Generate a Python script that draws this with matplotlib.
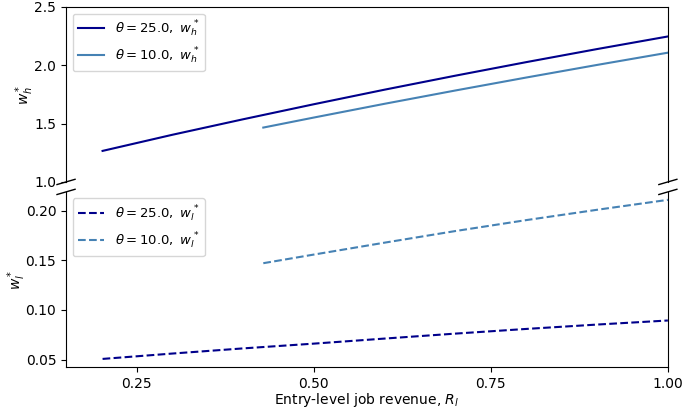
#!/usr/bin/env python3

import matplotlib
matplotlib.use('Agg')
import matplotlib.pyplot as plt

# Entry-level job revenue grid and optimal wages
R_l_25 = [0.2016, 0.30, 0.40, 0.50, 0.60, 0.70, 0.80, 0.90, 1.00]
w_h_25 = [1.266, 1.404, 1.537, 1.666, 1.791, 1.911, 2.027, 2.139, 2.247]
w_l_25 = [0.0506, 0.0560, 0.0612, 0.0660, 0.0711, 0.0761, 0.0808, 0.0852, 0.0893]

R_l_10 = [0.4286, 0.50, 0.60, 0.70, 0.80, 0.90, 1.00]
w_h_10 = [1.466, 1.552, 1.670, 1.784, 1.895, 2.003, 2.108]
w_l_10 = [0.1470, 0.1557, 0.1677, 0.1794, 0.1904, 0.2008, 0.2108]

thetas = [25.0, 10.0]
colors = ['darkblue', 'steelblue']


def main():
    fig, (ax_top, ax_bot) = plt.subplots(2, 1, sharex=True, figsize=(6.85, 4.09), dpi=100)
    fig.subplots_adjust(left=0.0964, right=0.975, top=0.983, bottom=0.103, hspace=0.057)

    # High-skill wages (top panel)
    ax_top.plot(R_l_25, w_h_25, color=colors[0],
                label=r'$\theta = %.1f,\ w_h^*$' % thetas[0])
    ax_top.plot(R_l_10, w_h_10, color=colors[1],
                label=r'$\theta = %.1f,\ w_h^*$' % thetas[1])
    ax_top.set_ylim(1.0, 2.5)
    ax_top.set_yticks([1.0, 1.5, 2.0, 2.5])
    ax_top.set_ylabel(r'$w_h^*$', labelpad=-1.5)
    ax_top.legend(loc='upper left', fontsize=9.5)

    # Low-skill wages (bottom panel)
    ax_bot.plot(R_l_25, w_l_25, color=colors[0], ls='--',
                label=r'$\theta = %.1f,\ w_l^*$' % thetas[0])
    ax_bot.plot(R_l_10, w_l_10, color=colors[1], ls='--',
                label=r'$\theta = %.1f,\ w_l^*$' % thetas[1])
    ax_bot.set_yticks([0.05, 0.10, 0.15, 0.20])
    ax_bot.set_ylabel(r'$w_l^*$', labelpad=-1.5)
    ax_bot.legend(loc='upper left', fontsize=9.5)

    ax_bot.set_xlim(0.15, 1.0)
    ax_bot.set_xticks([0.25, 0.50, 0.75, 1.00])
    ax_bot.set_xlabel(r'Entry-level job revenue, $R_l$', labelpad=0)

    # Broken axis look
    ax_top.spines['bottom'].set_visible(False)
    ax_bot.spines['top'].set_visible(False)
    ax_top.tick_params(axis='x', which='both', bottom=False, labelbottom=False)

    d = .015
    kw = dict(transform=ax_top.transAxes, color='k', clip_on=False, lw=1)
    ax_top.plot((-d, +d), (-d, +d), **kw)
    ax_top.plot((1 - d, 1 + d), (-d, +d), **kw)
    kw.update(transform=ax_bot.transAxes)
    ax_bot.plot((-d, +d), (1 - d, 1 + d), **kw)
    ax_bot.plot((1 - d, 1 + d), (1 - d, 1 + d), **kw)

    fig.savefig('out.png')
    plt.close(fig)


if __name__ == "__main__":
    main()
